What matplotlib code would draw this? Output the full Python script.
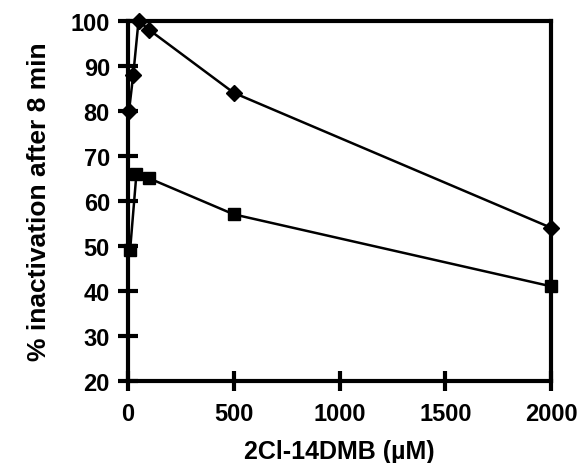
import matplotlib
matplotlib.use("Agg")
import matplotlib.pyplot as plt

# Data
conc_diamond = [5, 25, 50, 100, 500, 2000]
inact_diamond = [80, 88, 100, 98, 84, 54]
conc_square = [10, 40, 100, 500, 2000]
inact_square = [49, 66, 65, 57, 41]

plt.rcParams['font.family'] = ['Liberation Sans', 'DejaVu Sans']
plt.rcParams['font.weight'] = 'bold'

fig = plt.figure(figsize=(5.79, 4.64), dpi=100)
ax = fig.add_axes([0.221, 0.177, 0.731, 0.776])

ax.plot(conc_diamond, inact_diamond, color='black', lw=1.8, marker='D', ms=8,
        clip_on=False, zorder=3)
ax.plot(conc_square, inact_square, color='black', lw=1.8, marker='s', ms=9,
        clip_on=False, zorder=3)

ax.set_xlim(0, 2000)
ax.set_ylim(20, 100)
ax.set_xticks([0, 500, 1000, 1500, 2000])
ax.set_yticks(range(20, 101, 10))
ax.tick_params(direction='inout', length=14, width=3, labelsize=17, pad=6)
ax.tick_params(axis='x', pad=8)
for s in ax.spines.values():
    s.set_linewidth(3)

ax.set_xlabel('2Cl-14DMB (\u00b5M)', fontsize=18, fontweight='bold', labelpad=10)
ax.set_ylabel('% inactivation after 8 min', fontsize=19, fontweight='bold', labelpad=14)

fig.savefig('out.png', dpi=100)
